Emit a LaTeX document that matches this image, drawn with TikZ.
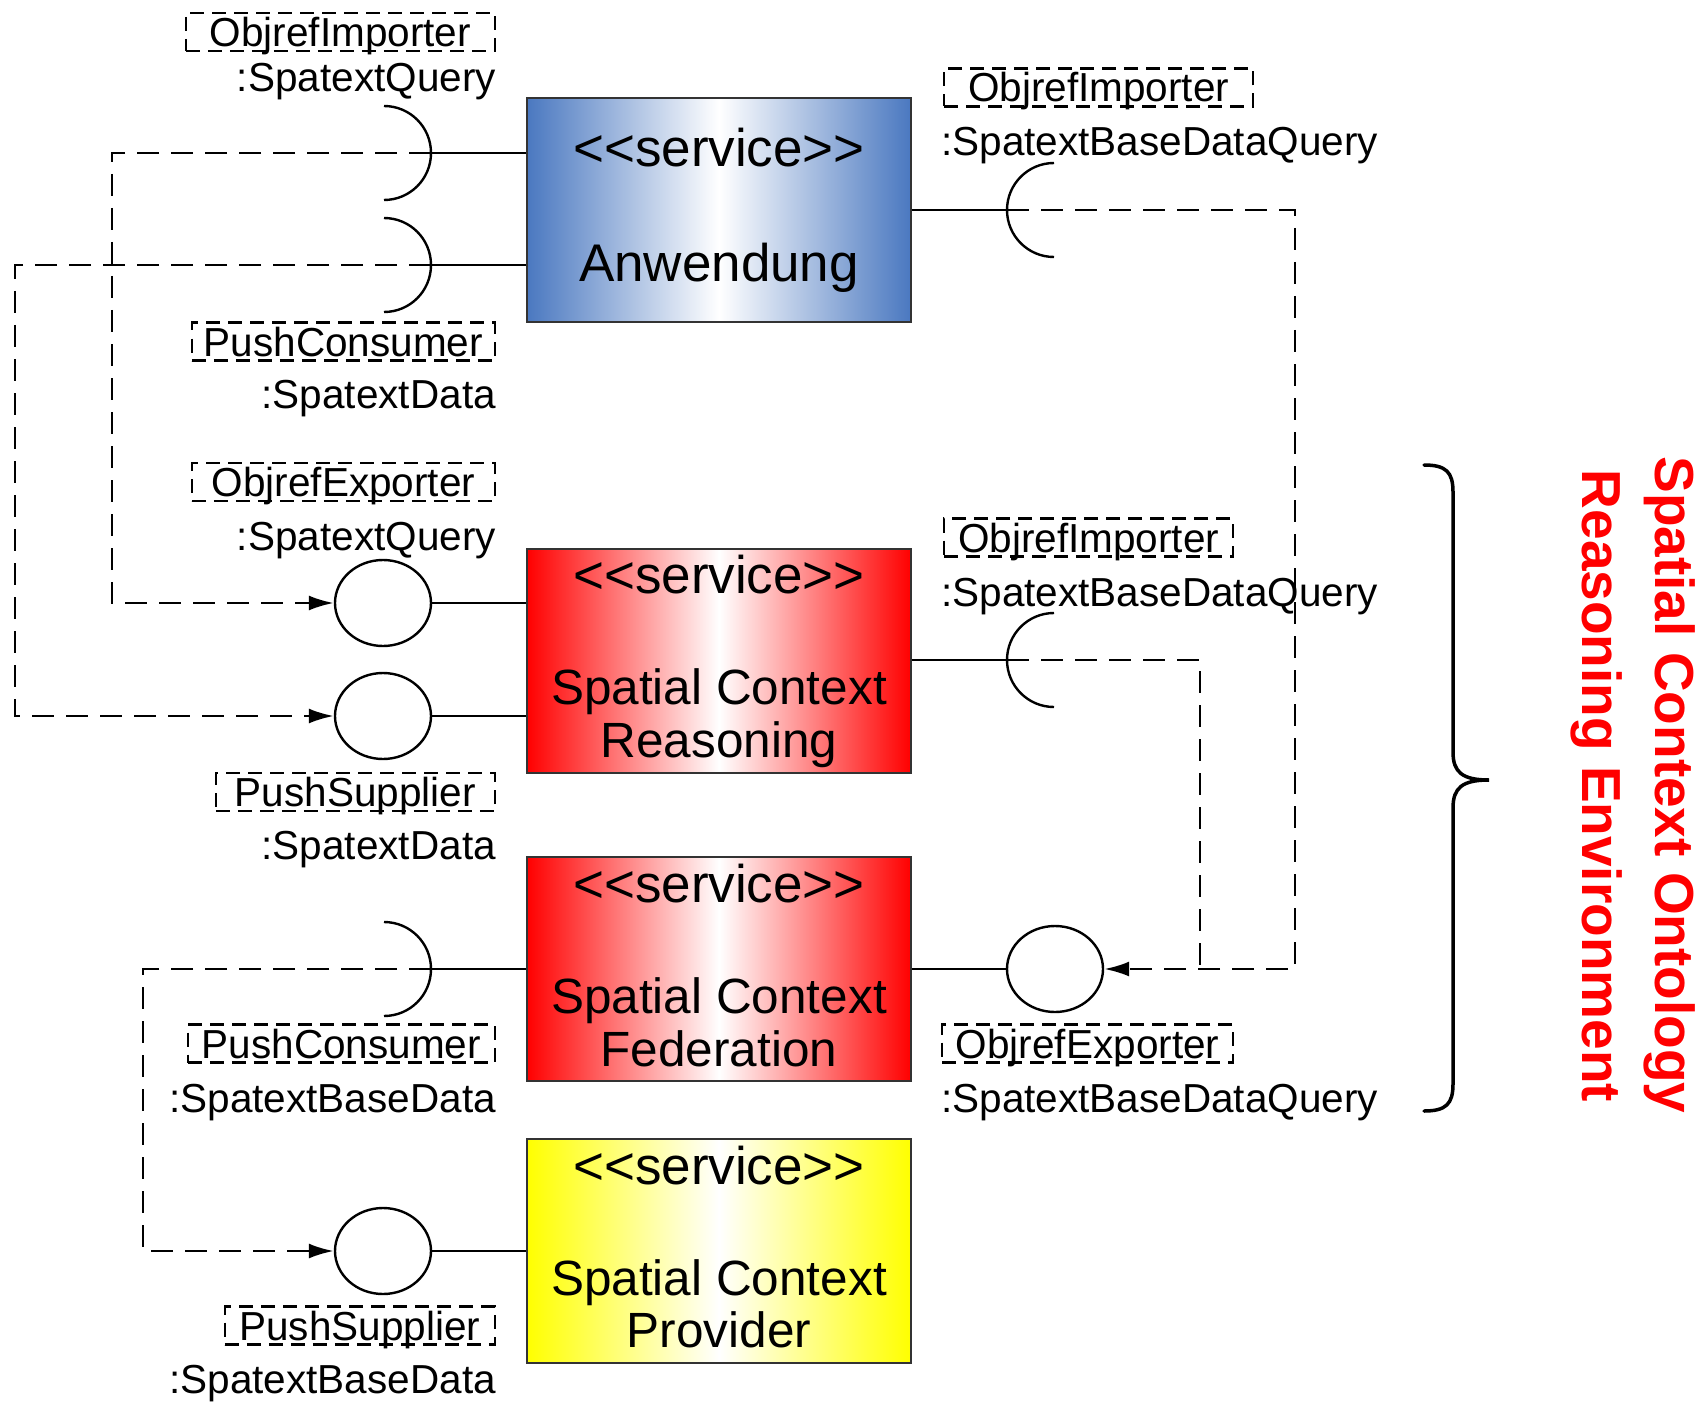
\documentclass[tikz,border=0pt]{standalone}
\usepackage{fontspec}
\newfontfamily\arialf{Liberation Sans}
\usetikzlibrary{arrows.meta,shapes.geometric}
\newcommand\lblfont{\arialf\fontsize{40.5}{48}\selectfont}
\newcommand\boxfont{\arialf\fontsize{49.5}{58}\selectfont}
\newcommand\svcfont{\arialf\fontsize{53}{62}\selectfont}
\newcommand\sidefont{\arialf\bfseries\fontsize{55}{64}\selectfont}
\definecolor{anwblue}{RGB}{74,120,192}
\definecolor{pred}{RGB}{255,0,0}
\definecolor{pyellow}{RGB}{255,255,0}
\begin{document}
\begin{tikzpicture}[x=1pt,y=-1pt,
 svcbox/.style={draw=black!80, line width=1.8pt, minimum width=384pt, minimum height=224pt, inner sep=0pt},
 ster/.style={draw, line width=2.2pt, dash pattern=on 14pt off 8pt, font=\lblfont, text height=29pt, text depth=0pt, inner ysep=4.5pt, inner xsep=0pt},
 lbl/.style={font=\lblfont, inner sep=0pt},
 btext/.style={font=\boxfont, inner sep=0pt, anchor=mid},
 stext/.style={font=\svcfont, inner sep=0pt, anchor=mid},
 conn/.style={line width=2.6pt, dash pattern=on 22pt off 12pt},
 wire/.style={line width=2.4pt},
 ball/.style={ellipse, draw, fill=white, line width=2.4pt, minimum width=96pt, minimum height=86pt, inner sep=0pt},
 tip/.style={-{Latex[length=25pt,width=15pt]}},
 bracestyle/.style={line width=3.5pt, line cap=round}
]
\useasboundingbox (0,0) rectangle (1704,1404);

% service boxes
\node[svcbox, left color=anwblue, right color=anwblue, middle color=white] (anw) at (719,210) {};
\node[svcbox, left color=pred, right color=pred, middle color=white] (scr) at (719,661) {};
\node[svcbox, left color=pred, right color=pred, middle color=white] (scf) at (719,969) {};
\node[svcbox, left color=pyellow, right color=pyellow, middle color=white] (scp) at (719,1251) {};

\node[stext] (anwS) at (719,164) {<\kern0pt<service>\kern0pt>};
\node[stext] (anwN) at (719,279) {Anwendung};
\node[stext] (scrS) at (719,591) {<\kern0pt<service>\kern0pt>};
\node[btext] (scrN1) at (719,702) {Spatial Context};
\node[btext] (scrN2) at (719,755) {Reasoning};
\node[stext] (scfS) at (719,900) {<\kern0pt<service>\kern0pt>};
\node[btext] (scfN1) at (719,1011) {Spatial Context};
\node[btext] (scfN2) at (719,1064) {Federation};
\node[stext] (scpS) at (719,1182) {<\kern0pt<service>\kern0pt>};
\node[btext] (scpN1) at (719,1293) {Spatial Context};
\node[btext] (scpN2) at (719,1345) {Provider};

% stereotype boxes
\node[ster, anchor=east, minimum width=309pt] (stL1) at (496,32) {ObjrefImporter};
\node[ster, anchor=east, minimum width=303pt] (stL2) at (496,341.5) {PushConsumer};
\node[ster, anchor=east, minimum width=303pt] (stL3) at (496,482) {ObjrefExporter};
\node[ster, anchor=east, minimum width=279pt] (stL4) at (496,792) {PushSupplier};
\node[ster, anchor=east, minimum width=307pt] (stL5) at (496,1043.5) {PushConsumer};
\node[ster, anchor=east, minimum width=270pt] (stL6) at (496,1325.5) {PushSupplier};
\node[ster, anchor=west, minimum width=309pt] (stR1) at (943,87.5) {ObjrefImporter};
\node[ster, anchor=west, minimum width=289pt] (stR2) at (943,537.5) {ObjrefImporter};
\node[ster, anchor=west, minimum width=291pt] (stR3) at (941,1043.5) {ObjrefExporter};

% labels
\node[lbl, anchor=base east] (lbL1) at (496,92) {:SpatextQuery};
\node[lbl, anchor=base east] (lbL2) at (496,408) {:SpatextData};
\node[lbl, anchor=base east] (lbL3) at (496,550) {:SpatextQuery};
\node[lbl, anchor=base east] (lbL4) at (496,859) {:SpatextData};
\node[lbl, anchor=base east] (lbL5) at (496,1112) {:SpatextBaseData};
\node[lbl, anchor=base east] (lbL6) at (496,1393) {:SpatextBaseData};
\node[lbl, anchor=base west] (lbR1) at (941,156) {:SpatextBaseDataQuery};
\node[lbl, anchor=base west] (lbR2) at (941,606) {:SpatextBaseDataQuery};
\node[lbl, anchor=base west] (lbR3) at (941,1112) {:SpatextBaseDataQuery};

% sockets (apex points)
\coordinate (sL1) at (431,153);
\coordinate (sL2) at (431,265);
\coordinate (sL3) at (431,969);
\coordinate (sR1) at (1007,210);
\coordinate (sR2) at (1007,660);

% balls
\node[ball] (bL1) at (383,603) {};
\node[ball] (bL2) at (383,716) {};
\node[ball] (bL3) at (383,1251) {};
\node[ball] (bR) at (1055,969) {};

% junctions
\coordinate (jL1) at (112,153);
\coordinate (jL2) at (15,265);
\coordinate (jL3) at (143,969);
\coordinate (jR1) at (1295,969);
\coordinate (jR2) at (1200,969);

% dashed dependency connectors
\draw[conn, tip] (sL1) -- (jL1) |- (bL1.west);
\draw[conn, tip] (sL2) -- (jL2) |- (bL2.west);
\draw[conn, tip] (sL3) -- (jL3) |- (bL3.west);
\draw[conn, tip] (sR1) -| (jR1) -- (bR.east);
\draw[conn] (sR2) -| (jR2);

% solid wires
\draw[wire] (sL1) -- (sL1 -| anw.west);
\draw[wire] (sL2) -- (sL2 -| anw.west);
\draw[wire] (sL3) -- (sL3 -| scf.west);
\draw[wire] (bL1.east) -- (bL1.east -| scr.west);
\draw[wire] (bL2.east) -- (bL2.east -| scr.west);
\draw[wire] (bL3.east) -- (bL3.east -| scp.west);
\draw[wire] (sR1 -| anw.east) -- (sR1);
\draw[wire] (sR2 -| scr.east) -- (sR2);
\draw[wire] (bR.west -| scf.east) -- (bR.west);

% socket arcs
\foreach \s in {sL1,sL2,sL3}{
  \draw[wire] (\s) arc[start angle=0,end angle=90,radius=47] (\s) arc[start angle=0,end angle=-90,radius=47];
}
\foreach \s in {sR1,sR2}{
  \draw[wire] (\s) arc[start angle=180,end angle=90,radius=47] (\s) arc[start angle=180,end angle=270,radius=47];
}

% brace
\coordinate (bt) at (1424,465);
\coordinate (bm) at (1489,780);
\coordinate (bb) at (1424,1111);
\draw[bracestyle] (bt) .. controls (1446,465) and (1453,472) .. (1453,492) -- (1453,752) .. controls (1453,772) and (1462,780) .. (bm) .. controls (1462,780) and (1453,788) .. (1453,808) -- (1453,1084) .. controls (1453,1104) and (1446,1111) .. (bb);

% side title
\node[font=\sidefont, text=pred, rotate=-90, inner sep=0pt] (t1) at (1670,785) {Spatial Context Ontology};
\node[font=\sidefont, text=pred, rotate=-90, inner sep=0pt] (t2) at (1597,786) {Reasoning Environment};
\end{tikzpicture}
\end{document}
